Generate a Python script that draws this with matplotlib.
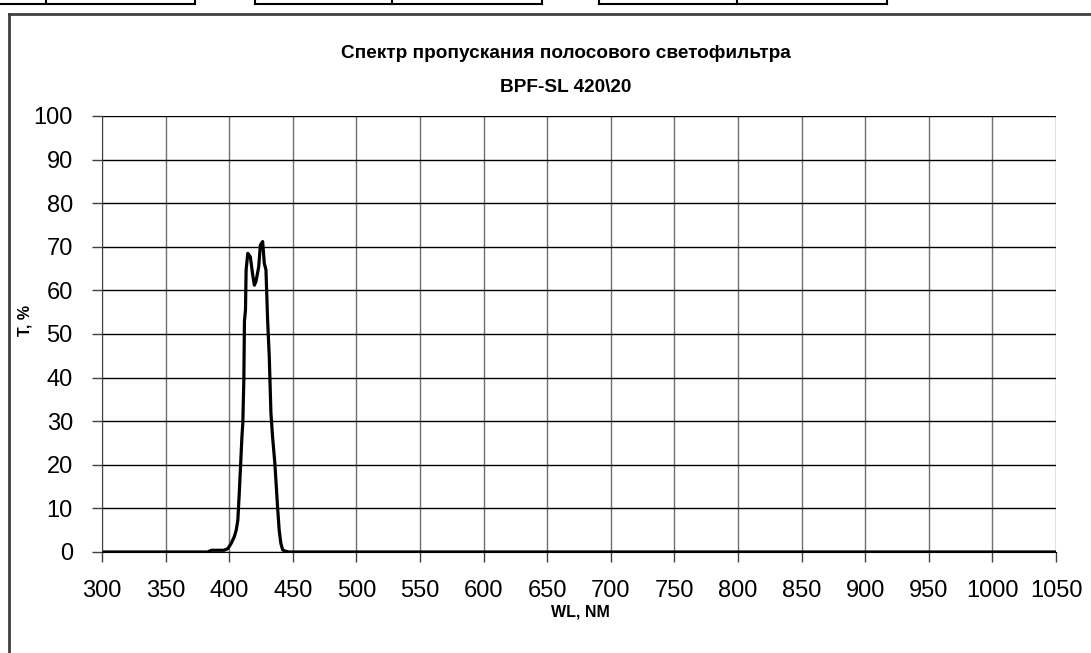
import matplotlib.pyplot as plt
from matplotlib.lines import Line2D

plt.rcParams['font.family'] = ['Liberation Sans', 'DejaVu Sans']

W, H = 1091, 653

# transmission spectrum
wl = [300, 383, 386, 396, 399, 401.6, 404, 405.5, 406.8, 408, 410, 410.7, 411.5,
      412, 412.8, 413.3, 414.6, 416.6, 418.5, 419.8, 421, 423.2, 424.5, 426.3,
      427.6, 428.9, 430.2, 431.5, 432.8, 434.1, 435.9, 438, 439.3, 440.6, 442,
      444, 447, 1050]
trans = [0, 0, 0.4, 0.4, 0.8, 2.0, 3.5, 5, 7.3, 14, 26.4, 29.6, 39.4,
         53, 55.5, 64.7, 68.5, 67.7, 63.5, 61.2, 62, 65.4, 70.4, 71.2,
         66.2, 64.7, 53.2, 44.8, 31.9, 26.4, 20.3, 10.4, 5, 2, 0.5,
         0.2, 0, 0]

xticks = list(range(300, 1051, 50))
yticks = list(range(0, 101, 10))
title1 = "Спектр пропускания полосового светофильтра"
title2 = "BPF-SL 420\\20"

fig = plt.figure(figsize=(W / 100, H / 100), dpi=100)


def fx(px):
    return px / W


def fy(py):
    return 1 - py / H


# leftover worksheet cells at the top
cell_boxes = [(-5, 46, 195), (255, 392, 542), (599, 737, 887)]
for (a, m, b) in cell_boxes:
    fig.add_artist(Line2D([fx(a), fx(b)], [fy(4), fy(4)], color='black', lw=1.5))
    for xx in (a, m, b):
        fig.add_artist(Line2D([fx(xx), fx(xx)], [fy(-2), fy(4)], color='black', lw=1.5))

# chart frame
fig.add_artist(Line2D([fx(9), fx(9)], [fy(14), fy(H + 5)], color='#404040', lw=2))
fig.add_artist(Line2D([fx(9), fx(W + 5)], [fy(14), fy(14)], color='#404040', lw=2))

ax = fig.add_axes([fx(102), fy(552), (1056 - 102) / W, (552 - 116) / H])
ax.plot(wl, trans, color='black', lw=2.3, solid_joinstyle='round')

ax.set_xlim(300, 1050)
ax.set_ylim(0, 100)
ax.set_xticks(xticks)
ax.set_yticks(yticks)
ax.xaxis.grid(True, color='#707070', lw=1.0)
ax.yaxis.grid(True, color='black', lw=1.0)
ax.set_axisbelow(True)
for s in ('top', 'right'):
    ax.spines[s].set_visible(False)
ax.spines['left'].set_color('#404040')
ax.spines['bottom'].set_color('black')
ax.tick_params(direction='out', length=7, width=1, color='#404040',
               labelsize=17)
ax.tick_params(axis='y', pad=14)
ax.tick_params(axis='x', pad=13)

fig.text(fx(566), fy(54), title1, ha='center', va='center', fontsize=13.7,
         fontweight='bold')
fig.text(fx(566), fy(87), title2, ha='center', va='center', fontsize=13.7,
         fontweight='bold')
fig.text(fx(580), fy(612), "WL, NM", ha='center', va='center', fontsize=11.5,
         fontweight='bold')
fig.text(fx(25), fy(320), "T, %", ha='center', va='center', fontsize=11.5,
         fontweight='bold', rotation=90)

fig.savefig('out.png', dpi=100)
